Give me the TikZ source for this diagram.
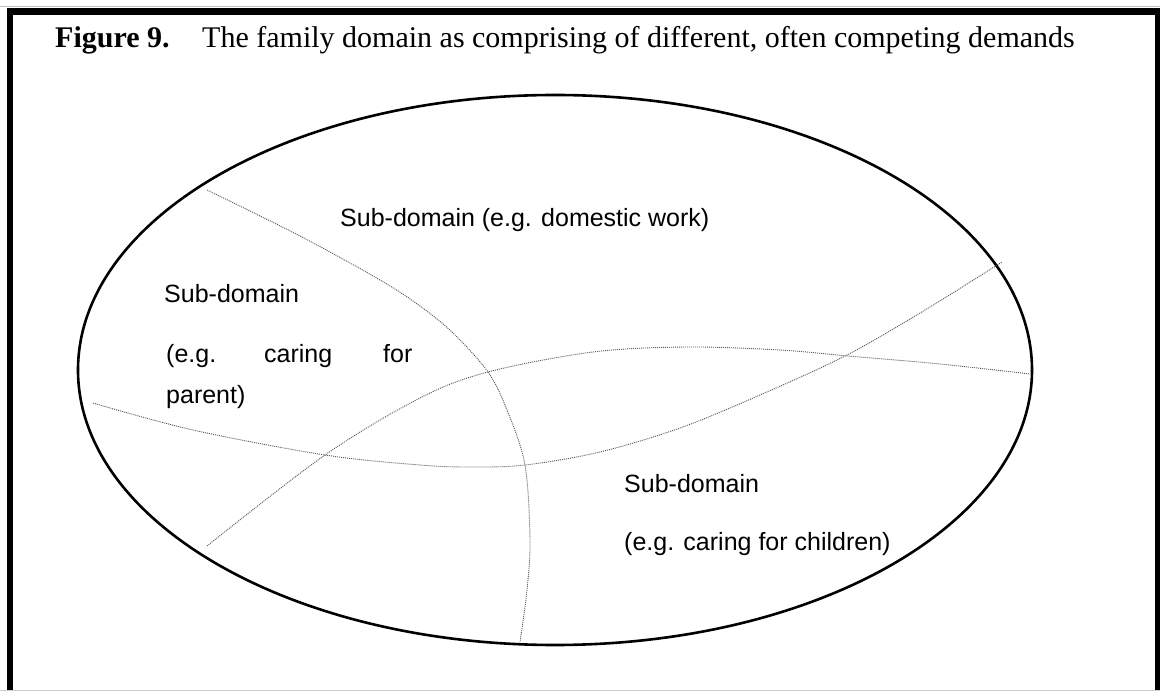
\documentclass[tikz,border=0pt]{standalone}
\usepackage{fontspec}
\setmainfont{Liberation Serif}
\newfontfamily\arialf{Liberation Sans}
\begin{document}
\begin{tikzpicture}[x=1pt,y=-1pt,
  lab/.style={font=\arialf\fontsize{25}{30}\selectfont, anchor=base west, inner sep=0pt},
  ttl/.style={font=\fontsize{30}{36}\selectfont, anchor=base west, inner sep=0pt},
  divider/.style={line width=0.9pt, black!65, dash pattern=on 1pt off 1pt},
  rim/.style={line width=2.6pt}]
\useasboundingbox (0,0) rectangle (1160,692);
\fill[white] (0,0) rectangle (1160,692);
% page edges
\draw[black!25, line width=1pt] (0,6.5) -- (1160,6.5);
\draw[black!20, line width=1pt] (0,690.5) -- (1160,690.5);
% frame
\fill[black] (7,8) rectangle (1160,15);
\fill[black] (7,8) rectangle (13,690);
\fill[black] (1155,8) rectangle (1160,690);
% title
\node[ttl] (fig) at (55,48) {\bfseries Figure 9.};
\node[ttl] (cap) at (202,48) {The family domain as comprising of different, often competing demands};
% family domain
\draw[rim] (555,370) ellipse [x radius=477pt, y radius=275pt];
% dividers
\draw[divider] plot[smooth, tension=0.55] coordinates {(207,190) (300,236) (380,280) (420,306) (453,333) (488,372) (507,410) (525,465) (530,540) (527,590) (520,642)};
\draw[divider] plot[smooth, tension=0.55] coordinates {(207,546) (325,455) (420,398) (488,372) (593,352) (687,347) (780,350) (848,356) (940,364) (1030,374)};
\draw[divider] plot[smooth, tension=0.55] coordinates {(93,403) (193,430) (325,455) (420,465) (470,467) (525,465) (600,452) (680,428) (760,395) (847,355) (925,310) (1002,262)};
% labels
\node[lab] (dom) at (340,227) {Sub-domain (e.g. domestic work)};
\node[lab] (par1) at (164,303) {Sub-domain};
\node[lab] (par2a) at (166,363) {(e.g.};
\node[lab] (par2b) at (264,363) {caring};
\node[lab] (par2c) at (383,363) {for};
\node[lab] (par3) at (166,404) {parent)};
\node[lab] (chi1) at (624,493) {Sub-domain};
\node[lab] (chi2) at (624,550) {(e.g. caring for children)};
\end{tikzpicture}
\end{document}
